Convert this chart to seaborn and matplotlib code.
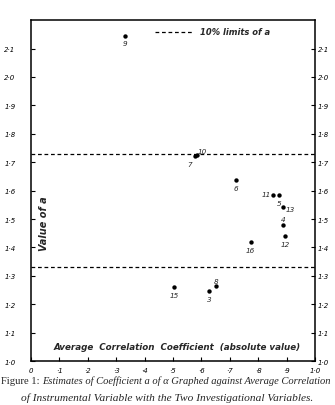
import matplotlib
matplotlib.use("Agg")
import matplotlib.pyplot as plt
import seaborn as sns
import pandas as pd

# Data
labels = ["9", "10", "7", "6", "11", "5", "13", "4", "12", "16", "15", "3", "8"]
corr = [0.331, 0.585, 0.577, 0.720, 0.853, 0.874, 0.888, 0.888, 0.895, 0.773, 0.504, 0.626, 0.651]
value_a = [2.144, 1.724, 1.722, 1.637, 1.585, 1.585, 1.542, 1.479, 1.440, 1.419, 1.261, 1.247, 1.264]
limits = [1.729, 1.331]
xticks = [0, 0.1, 0.2, 0.3, 0.4, 0.5, 0.6, 0.7, 0.8, 0.9, 1.0]
xticklabels = ["0", "·1", "·2", "·3", "·4", "·5", "·6", "·7", "·8", "·9", "1·0"]
yticks = [1.0, 1.1, 1.2, 1.3, 1.4, 1.5, 1.6, 1.7, 1.8, 1.9, 2.0, 2.1]
yticklabels = ["1·0", "1·1", "1·2", "1·3", "1·4", "1·5", "1·6", "1·7", "1·8", "1·9", "2·0", "2·1"]

# label offsets (points) for point annotations
offsets = {"9": (0, -5), "10": (4, 3), "7": (-4, -6), "6": (0, -6), "11": (-5, 1),
           "5": (0, -6), "13": (5, -1), "4": (0, 4), "12": (0, -6), "16": (0, -6),
           "15": (0, -6), "3": (0, -6), "8": (0, 4)}

df = pd.DataFrame({"label": labels, "corr": corr, "a": value_a})

sns.set_theme(style="white")
plt.rcParams["font.family"] = ["DejaVu Sans"]

fig = plt.figure(figsize=(3.35, 4.06), dpi=100)
ax = fig.add_axes([0.0925, 0.108, 0.848, 0.84])

sns.scatterplot(data=df, x="corr", y="a", ax=ax, color="black", s=10,
                edgecolor="black", linewidth=0, legend=False)

for lim in limits:
    ax.axhline(lim, color="black", lw=0.9, ls=(0, (3, 2.2)))

for lab, x, y in zip(labels, corr, value_a):
    dx, dy = offsets[lab]
    ax.annotate(lab, (x, y), xytext=(dx, dy), textcoords="offset points",
                ha="center", va="center", fontsize=5.2, style="italic")

ax.set_xlim(0, 1.0)
ax.set_ylim(1.0, 2.2)
ax.set_xticks(xticks)
ax.set_xticklabels(xticklabels, fontsize=5, style="italic")
ax.set_yticks(yticks)
ax.set_yticklabels(yticklabels, fontsize=5, style="italic")
ax.tick_params(axis="both", direction="in", length=3, width=0.8, pad=11,
               left=True, right=False, bottom=True, top=False,
               labelleft=True, labelright=False, colors="black")
ax.tick_params(axis="x", pad=4.5)
for s in ax.spines.values():
    s.set_color("black")
    s.set_linewidth(1.1)
ax.set_xlabel("")
ax.set_ylabel("")

# right-hand axis labels (close to the spine)
ax2 = ax.twinx()
ax2.set_ylim(1.0, 2.2)
ax2.set_yticks(yticks)
ax2.set_yticklabels(yticklabels, fontsize=5, style="italic")
ax2.tick_params(axis="y", direction="in", length=3, width=0.8, pad=2, colors="black")
ax2.grid(False)
for s in ax2.spines.values():
    s.set_visible(False)

ax.text(0.08, 0.042, "Average  Correlation  Coefficient  (absolute value)",
        transform=ax.transAxes, fontsize=6.3, style="italic", weight="bold",
        ha="left", va="center")
ax.text(0.045, 0.405, "Value of a", transform=ax.transAxes, rotation=90,
        fontsize=7, style="italic", weight="bold", ha="center", va="center")

# legend
ax.plot([0.437, 0.57], [0.965, 0.965], transform=ax.transAxes, color="black",
        lw=0.9, ls=(0, (3, 2.2)))
ax.text(0.595, 0.968, "10% limits of a", transform=ax.transAxes, fontsize=6,
        style="italic", weight="bold", ha="left", va="center")

# caption
cap_font = "Liberation Serif"
t1 = fig.text(0.003, 0.061, "Figure 1: ", fontsize=7.6, family=cap_font,
              ha="left", va="center")
ax.annotate("Estimates of Coefficient a of \u03b1 Graphed against Average Correlation",
            xy=(1, 0.5), xycoords=t1, fontsize=7.6, family=cap_font, style="italic",
            ha="left", va="center", annotation_clip=False)
fig.text(0.5, 0.02,
         "of Instrumental Variable with the Two Investigational Variables.",
         fontsize=8.2, family=cap_font, style="italic", ha="center", va="center")

fig.savefig("out.png", dpi=100)
